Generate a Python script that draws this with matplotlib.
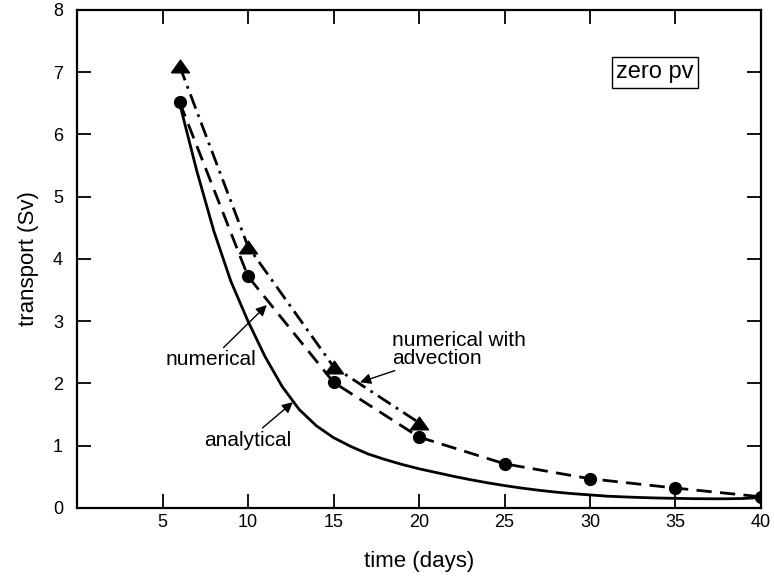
import matplotlib
matplotlib.use("Agg")
import matplotlib.pyplot as plt

plt.rcParams['font.family'] = ['Liberation Sans', 'DejaVu Sans']

# Analytical solution (solid curve)
time_analytical = [6, 7, 8, 9, 10, 11, 12, 13, 14, 15, 16, 17, 18, 19, 20,
                   21, 22, 23, 24, 25, 26, 27, 28, 29, 30, 31, 32, 33, 34,
                   35, 36, 37, 38, 39, 40]
transport_analytical = [6.50, 5.42, 4.45, 3.64, 3.00, 2.43, 1.95, 1.58, 1.32,
                        1.13, 0.99, 0.87, 0.78, 0.70, 0.63, 0.57, 0.51, 0.455,
                        0.405, 0.36, 0.32, 0.285, 0.255, 0.23, 0.21, 0.19,
                        0.178, 0.168, 0.16, 0.155, 0.15, 0.148, 0.148, 0.153,
                        0.17]

# Numerical solution (circles, dashed)
time_numerical = [6, 10, 15, 20, 25, 30, 35, 40]
transport_numerical = [6.52, 3.72, 2.02, 1.14, 0.71, 0.47, 0.32, 0.18]

# Numerical solution with advection (triangles, dash-dot)
time_advection = [6, 10, 15, 20]
transport_advection = [7.10, 4.20, 2.27, 1.37]

x_ticks = [5, 10, 15, 20, 25, 30, 35, 40]
y_ticks = [0, 1, 2, 3, 4, 5, 6, 7, 8]

fig = plt.figure(figsize=(7.74, 5.77), dpi=100)
ax = fig.add_axes([0.0995, 0.1196, 0.8837, 0.8631])

triangle = [(-1.0, -0.7), (1.0, -0.7), (0.0, 0.7), (-1.0, -0.7)]

ax.plot(time_analytical, transport_analytical, color='black', lw=2.0,
        solid_joinstyle='round')
ax.plot(time_numerical, transport_numerical, color='black', lw=2.0,
        dashes=(5.5, 3), marker='o', markersize=8.5)
ax.plot(time_advection, transport_advection, color='black', lw=2.0,
        dashes=(5.5, 2.2, 1, 2.2), marker=triangle, markersize=13)

ax.set_xlim(0, 40)
ax.set_ylim(0, 8)
ax.set_xticks(x_ticks)
ax.set_yticks(y_ticks)
ax.tick_params(direction='in', length=10, width=1.3, top=True, right=True,
               labelsize=13)
ax.tick_params(axis='y', pad=10)
ax.tick_params(axis='x', pad=4)
for sp in ax.spines.values():
    sp.set_linewidth(1.6)

ax.set_xlabel('time (days)', fontsize=16, labelpad=15)
ax.set_ylabel('transport (Sv)', fontsize=16, labelpad=10)

arrow = dict(arrowstyle='-|>', color='black', lw=1.0, mutation_scale=16,
             shrinkA=0, shrinkB=0)
ax.annotate('numerical', xy=(11.1, 3.26), xytext=(7.84, 2.38),
            ha='center', va='center', fontsize=15, arrowprops=arrow)
ax.annotate('analytical', xy=(12.63, 1.70), xytext=(10.0, 1.09),
            ha='center', va='center', fontsize=15, arrowprops=arrow)
ax.annotate('numerical with\nadvection', xy=(16.55, 2.02), xytext=(18.42, 2.55),
            ha='left', va='center', fontsize=15, linespacing=0.95,
            arrowprops=arrow)

ax.text(33.8, 7.0, 'zero pv', ha='center', va='center', fontsize=17,
        bbox=dict(boxstyle='square,pad=0.2', facecolor='white',
                  edgecolor='black', lw=1.0))

fig.savefig('out.png', dpi=100)
